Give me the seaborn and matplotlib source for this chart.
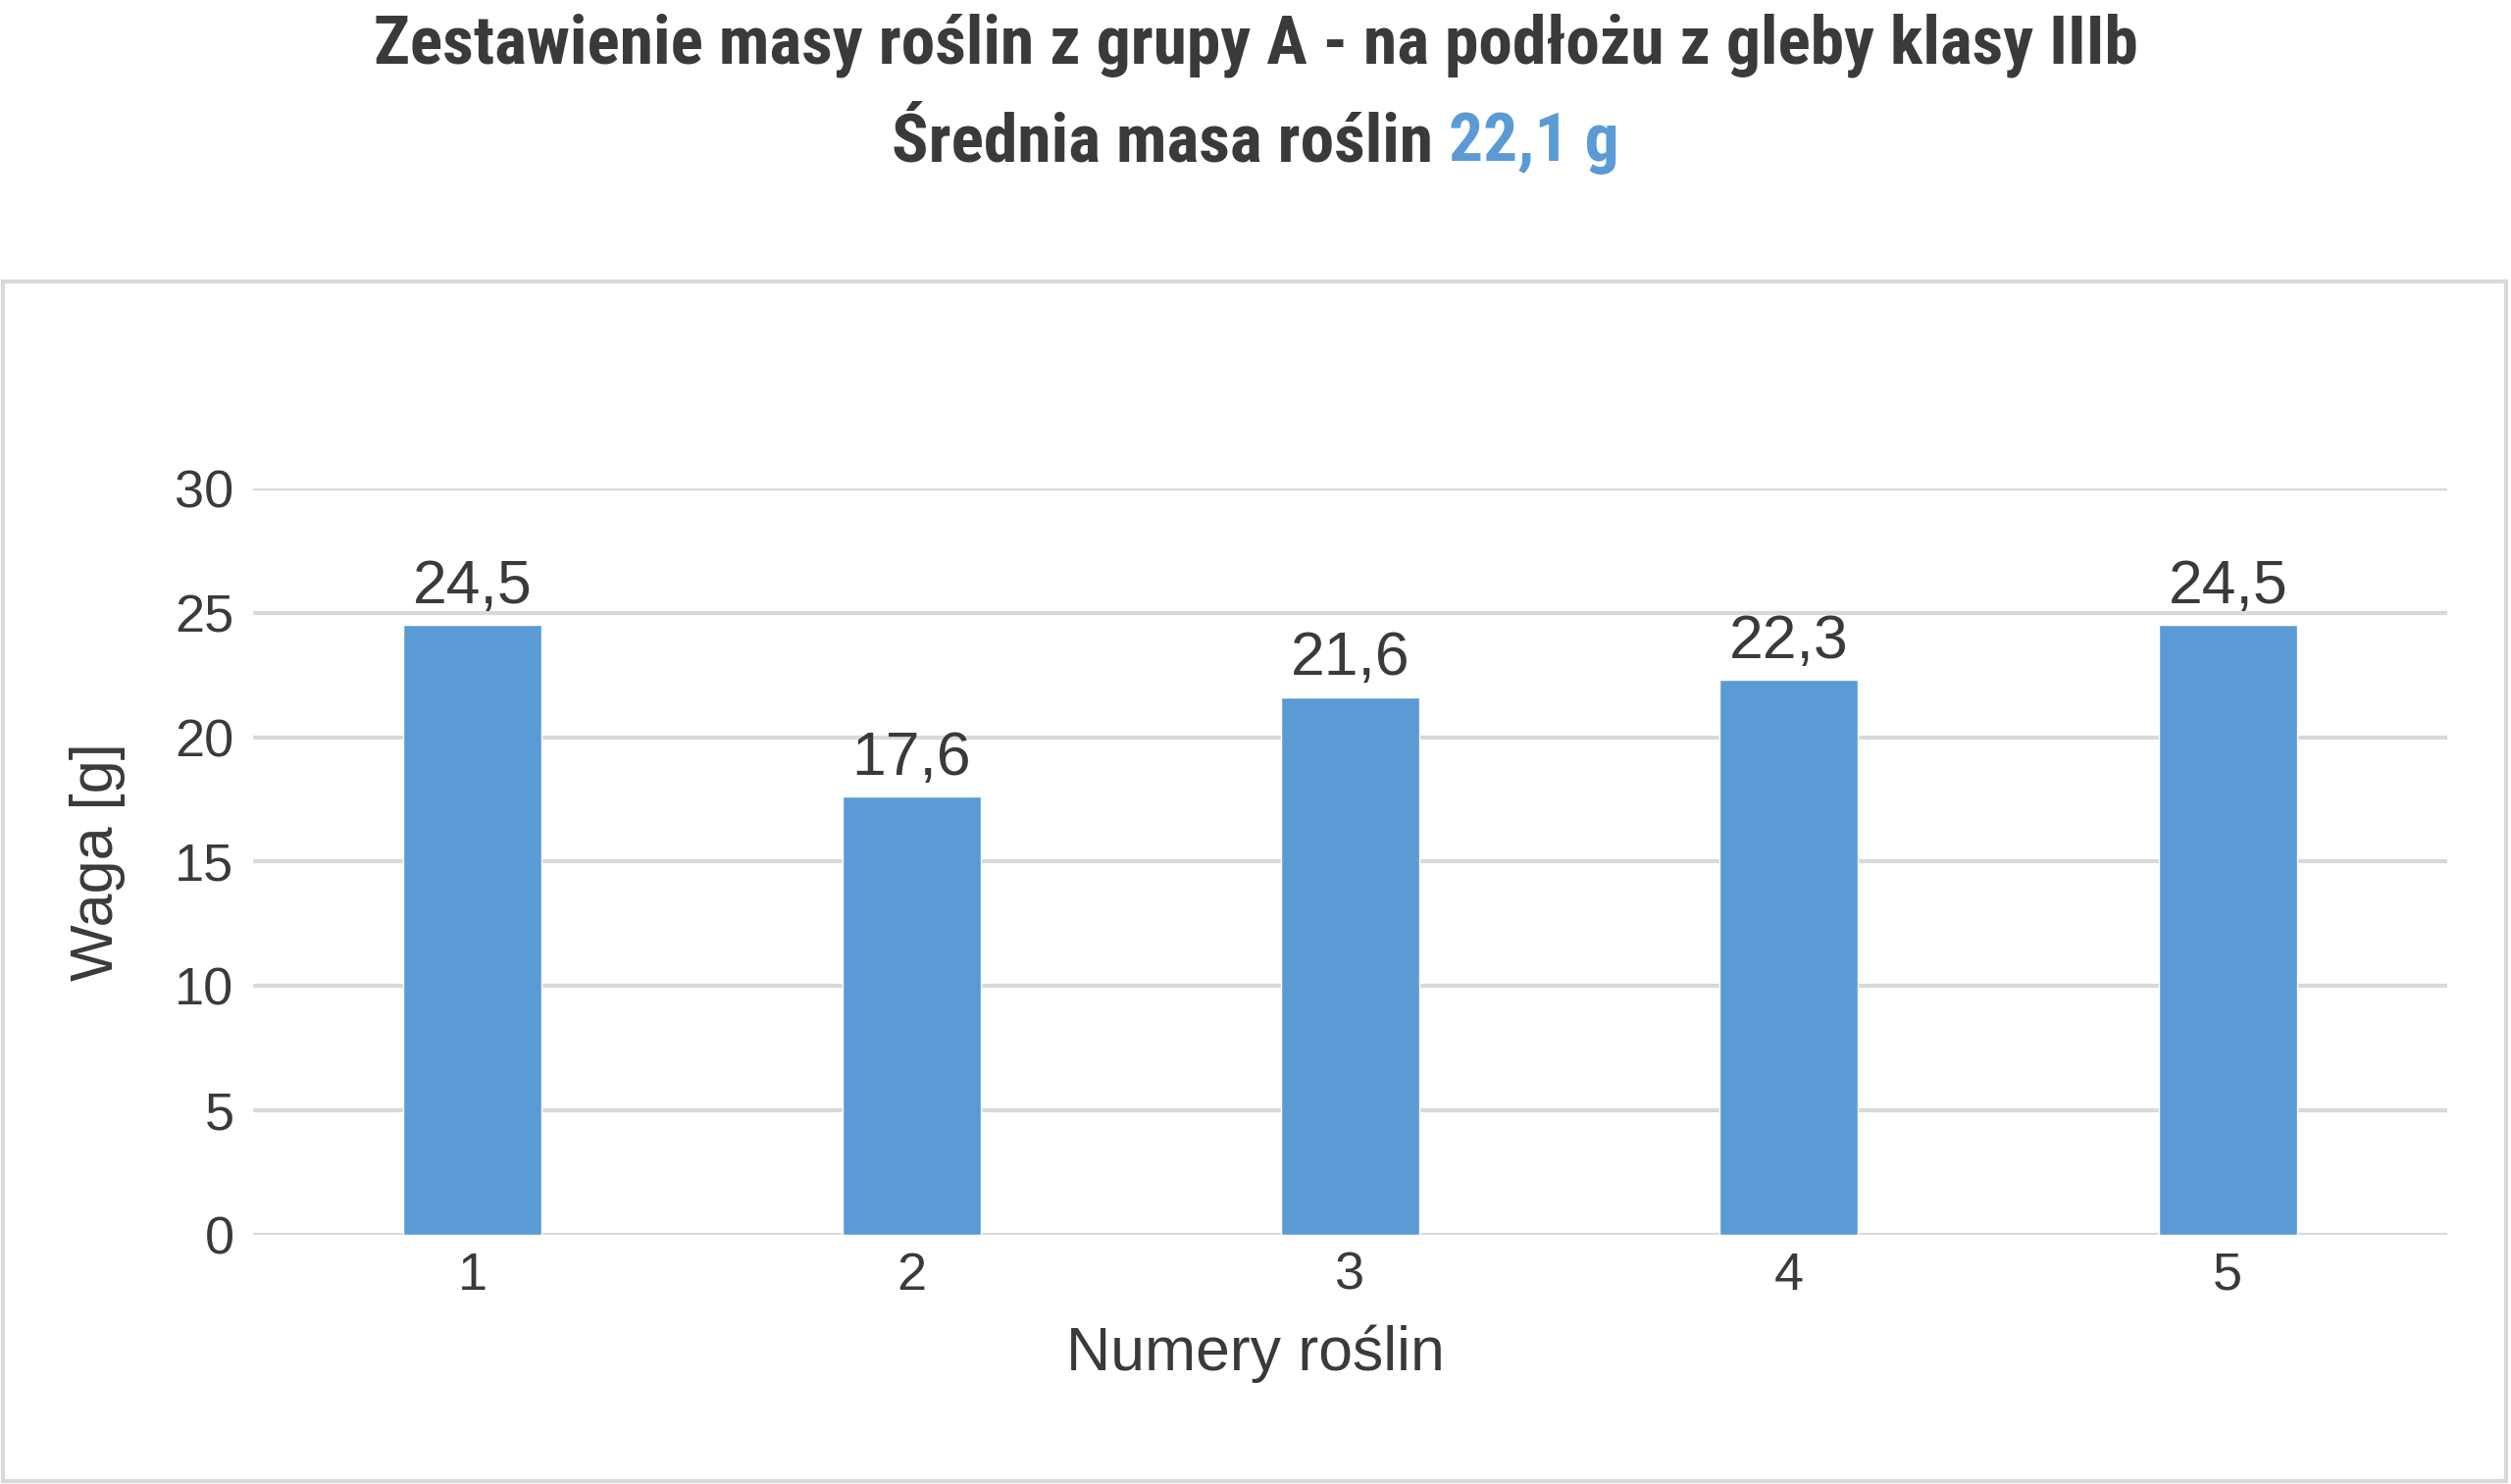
import matplotlib
matplotlib.use("Agg")
import matplotlib.pyplot as plt
import seaborn as sns
import pandas as pd
from matplotlib.patches import Rectangle
from matplotlib.offsetbox import TextArea, HPacker, AnchoredOffsetbox

# data
plant_numbers = ["1", "2", "3", "4", "5"]
plant_mass = [24.5, 17.6, 21.6, 22.3, 24.5]
mean_mass = "22,1 g"
y_ticks = [0, 5, 10, 15, 20, 25, 30]

title_line1 = "Zestawienie masy roślin z grupy A - na podłożu z gleby klasy IIIb"
title_line2 = "Średnia masa roślin "
x_label = "Numery roślin"
y_label = "Waga [g]"

bar_color = "#5B9BD5"
text_color = "#3A3A3A"
grid_color = "#D9D9D9"

sns.set_theme(style="white")
plt.rcParams["font.family"] = ["Liberation Sans", "DejaVu Sans"]

df = pd.DataFrame({"plant": plant_numbers, "mass": plant_mass})

fig = plt.figure(figsize=(25.6, 15.13), dpi=100)
ax = fig.add_axes([0.1008, 0.1679, 0.8738, 0.5030])

sns.barplot(data=df, x="plant", y="mass", color=bar_color, width=0.315,
            saturation=1, ax=ax, zorder=3)

# grid and axes styling
ax.set_ylim(0, 30)
ax.set_xlim(-0.5, len(plant_numbers) - 0.5)
ax.set_yticks(y_ticks)
ax.yaxis.grid(True, color=grid_color, linewidth=3, zorder=0)
ax.set_axisbelow(True)
for side in ["top", "right", "left", "bottom"]:
    ax.spines[side].set_visible(False)
ax.tick_params(axis="both", length=0, labelsize=39, colors=text_color)
ax.tick_params(axis="y", pad=14)
ax.tick_params(axis="x", pad=12)

ax.set_xlabel(x_label, fontsize=45, color=text_color)
ax.xaxis.set_label_coords(0.5, 1 - 1380 / 1513, transform=fig.transFigure)
ax.xaxis.label.set_va("center")
ax.set_ylabel(y_label, fontsize=44, color=text_color, labelpad=36)

# value labels
labels = [f"{v:.1f}".replace(".", ",") for v in plant_mass]
ax.bar_label(ax.containers[0], labels=labels, fontsize=45, color=text_color, padding=7)

# chart frame
fig.patches.append(Rectangle((0.001, 0.002), 0.997, 0.808, transform=fig.transFigure,
                             fill=False, edgecolor=grid_color, linewidth=3))

# titles
title_font = dict(family=["Roboto Condensed", "Roboto", "DejaVu Sans"], weight="bold",
                  size=50)
fig.text(0.5, 1 - 46 / 1513, title_line1, ha="center", va="center",
         color=text_color, **title_font)

part1 = TextArea(title_line2, textprops=dict(color=text_color, **title_font))
part2 = TextArea(mean_mass, textprops=dict(color=bar_color, **title_font))
box = HPacker(children=[part1, part2], align="baseline", pad=0, sep=0)
anchored = AnchoredOffsetbox(loc="center", child=box, frameon=False,
                             bbox_to_anchor=(0.5, 1 - 146 / 1513),
                             bbox_transform=fig.transFigure, borderpad=0, pad=0)
fig.add_artist(anchored)

fig.savefig("out.png", dpi=100)
